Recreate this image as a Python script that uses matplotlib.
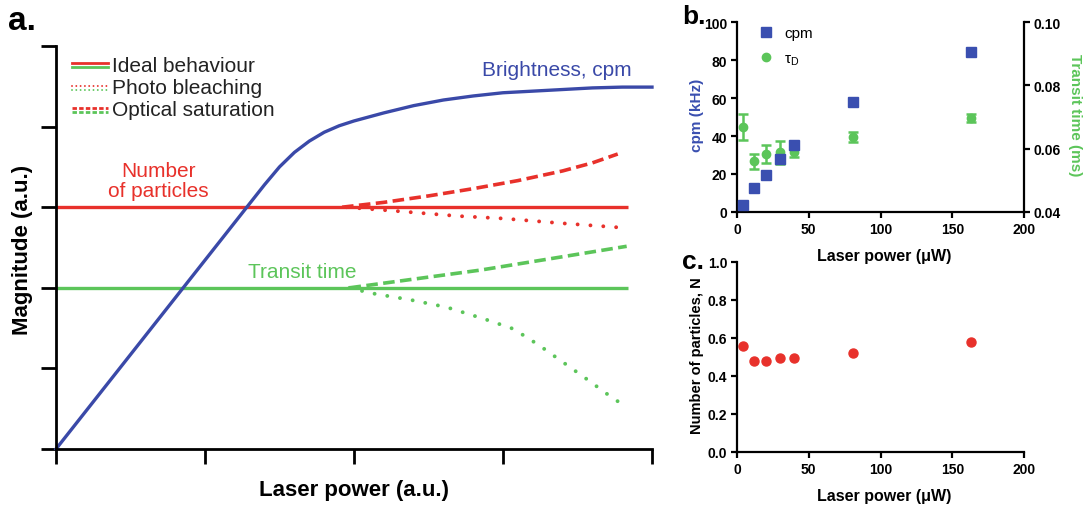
import matplotlib
matplotlib.use("Agg")
import matplotlib.pyplot as plt
from matplotlib.lines import Line2D

plt.rcParams['font.family'] = ['Liberation Sans', 'DejaVu Sans']
plt.rcParams['mathtext.fontset'] = 'custom'
plt.rcParams['mathtext.rm'] = 'Liberation Sans'
plt.rcParams['mathtext.it'] = 'Liberation Sans:italic'

BLUE = '#3a49a8'
RED = '#e8312b'
GREEN = '#5cc55a'
BLUE_B = '#3a4fb0'

# ---------------- Panel a: schematic curves (a.u.) ----------------
bright_x = [0, 1.40, 1.50, 1.60, 1.70, 1.80, 1.90, 2.00, 2.20, 2.40, 2.60, 2.80, 3.00, 3.20, 3.40, 3.60, 3.80, 4.00]
bright_y = [0, 3.28, 3.50, 3.68, 3.82, 3.93, 4.01, 4.07, 4.17, 4.26, 4.33, 4.38, 4.42, 4.44, 4.46, 4.48, 4.49, 4.49]

ideal_x = [0, 3.84]
n_ideal = [3.0, 3.0]
t_ideal = [2.0, 2.0]

n_sat_x = [1.92, 2.2, 2.5, 2.8, 3.1, 3.4, 3.6, 3.77]
n_sat_y = [3.0, 3.06, 3.14, 3.23, 3.33, 3.45, 3.55, 3.66]

n_bleach_x = [1.95, 2.3, 2.7, 3.0, 3.4, 3.77]
n_bleach_y = [3.0, 2.95, 2.89, 2.86, 2.80, 2.75]

t_sat_x = [1.97, 2.85, 3.83]
t_sat_y = [2.0, 2.22, 2.515]

t_bleach_x = [1.97, 2.11, 2.38, 2.62, 2.88, 3.07, 3.24, 3.40, 3.56, 3.73, 3.83]
t_bleach_y = [2.0, 1.935, 1.85, 1.76, 1.61, 1.49, 1.29, 1.08, 0.87, 0.64, 0.52]

# ---------------- Panels b, c: measured data ----------------
power = [4, 12, 20, 30, 40, 81, 163]
cpm = [3.6, 12.4, 19.5, 27.9, 35.3, 57.8, 84.0]
tau_d = [0.0668, 0.0560, 0.0583, 0.0588, 0.0588, 0.0638, 0.0696]
tau_err = [0.0041, 0.0023, 0.0028, 0.0036, 0.0013, 0.0016, 0.0013]
n_part = [0.559, 0.477, 0.481, 0.493, 0.497, 0.523, 0.579]

W, H = 1084, 510
fig = plt.figure(figsize=(W/100, H/100), dpi=100)

def fx(px):
    return px / W

def fy(py):
    return 1 - py / H

# ---- panel a
ax = fig.add_axes([fx(56), fy(450), 596/W, 403/H])
ax.set_xlim(0, 4)
ax.set_ylim(0, 5)
for s in ['top', 'right']:
    ax.spines[s].set_visible(False)
for s in ['left', 'bottom']:
    ax.spines[s].set_linewidth(2.0)
ax.set_xticks([0, 1, 2, 3, 4])
ax.set_yticks([0, 1, 2, 3, 4, 5])
ax.set_xticklabels([])
ax.set_yticklabels([])
ax.tick_params(direction='out', length=11, width=2.0)

lw = 2.4
dash = (0, (3.2, 1.5))
dot = (0, (0.01, 3.3))
ax.plot(ideal_x, n_ideal, color=RED, lw=lw, solid_capstyle='butt')
ax.plot(ideal_x, t_ideal, color=GREEN, lw=lw, solid_capstyle='butt')
ax.plot(n_sat_x, n_sat_y, color=RED, lw=2.6, linestyle=dash)
ax.plot(t_sat_x, t_sat_y, color=GREEN, lw=2.6, linestyle=dash)
ax.plot(n_bleach_x, n_bleach_y, color=RED, lw=2.8, linestyle=dot, dash_capstyle='round')
ax.plot(t_bleach_x, t_bleach_y, color=GREEN, lw=2.8, linestyle=dot, dash_capstyle='round')
ax.plot(bright_x, bright_y, color=BLUE, lw=2.4, clip_on=False)

ax.text(3.36, 4.71, 'Brightness, cpm', color=BLUE, fontsize=15, ha='center', va='center')
ax.text(0.69, 3.33, 'Number\nof particles', color=RED, fontsize=15, ha='center', va='center',
        linespacing=1.05)
ax.text(1.65, 2.2, 'Transit time', color=GREEN, fontsize=15, ha='center', va='center')

# legend (manual, double coloured handles)
leg_rows = [('Ideal behaviour', '-'), ('Photo bleaching', 'dot'), ('Optical saturation', (0, (1.6, 0.8)))]
x0, x1 = (72-56)/596, (108-56)/596
for i, (lab, ls) in enumerate(leg_rows):
    yc = 1 - (66 + 22.5*i - 47)/403
    off = 2.0/403
    kw = dict(transform=ax.transAxes, lw=2.0, linestyle=ls, clip_on=False)
    if ls == 'dot':
        kw['lw'] = 1.4
        kw['linestyle'] = (0, (0.01, 2.2))
        kw['dash_capstyle'] = 'round'
    ax.add_line(Line2D([x0, x1], [yc+off, yc+off], color=RED, **kw))
    ax.add_line(Line2D([x0, x1], [yc-off, yc-off], color=GREEN, **kw))
    ax.text((112-56)/596, yc, lab, transform=ax.transAxes, fontsize=15, color='#222222',
            ha='left', va='center')

fig.text(fx(23), fy(250), 'Magnitude (a.u.)', fontsize=16, fontweight='bold', rotation=90,
         ha='center', va='center')
fig.text(fx(354), fy(491), 'Laser power (a.u.)', fontsize=16, fontweight='bold',
         ha='center', va='center')
fig.text(fx(8), fy(22), 'a.', fontsize=24, fontweight='bold', ha='left', va='center')

# ---- panel b
def style_small(a):
    a.spines['top'].set_visible(False)
    a.spines['right'].set_visible(False)
    for s in ['left', 'bottom']:
        a.spines[s].set_linewidth(1.6)
    a.tick_params(direction='out', length=4, width=1.6, labelsize=10, pad=3)
    for t in a.get_xticklabels() + a.get_yticklabels():
        t.set_fontweight('bold')

axb = fig.add_axes([fx(737), fy(213), 287/W, 190/H])
axb.set_xlim(0, 200)
axb.set_ylim(0, 100)
axb.set_xticks([0, 50, 100, 150, 200])
axb.set_yticks([0, 20, 40, 60, 80, 100])
axb2 = axb.twinx()
axb2.set_ylim(0.04, 0.10)
axb2.set_yticks([0.04, 0.06, 0.08, 0.10])
axb2.set_yticklabels(['0.04', '0.06', '0.08', '0.10'])
axb2.spines['top'].set_visible(False)
axb2.spines['right'].set_linewidth(1.6)
axb2.spines['left'].set_visible(False)
axb2.spines['bottom'].set_visible(False)
axb2.tick_params(direction='out', length=4, width=1.6, labelsize=10, pad=3)
for t in axb2.get_yticklabels():
    t.set_fontweight('bold')
style_small(axb)

axb2.errorbar(power, tau_d, yerr=tau_err, fmt='o', color=GREEN, ms=6, elinewidth=1.8,
              capsize=3.5, capthick=1.8, zorder=3)
axb.plot(power, cpm, 's', color=BLUE_B, ms=6.5, zorder=4)
axb.set_zorder(axb2.get_zorder() + 1)
axb.patch.set_visible(False)

h1 = Line2D([], [], marker='s', color=BLUE_B, ls='none', ms=6.5)
h2 = Line2D([], [], marker='o', color=GREEN, ls='none', ms=6)
axb.legend([h1, h2], ['cpm', r'$\mathrm{\tau_D}$'], loc='upper left', frameon=False, fontsize=11,
           bbox_to_anchor=(0.02, 1.05), handlelength=1.2, handletextpad=0.6, labelspacing=0.75)

fig.text(fx(697), fy(115), 'cpm (kHz)', fontsize=11, fontweight='bold', color=BLUE_B,
         rotation=90, ha='center', va='center')
fig.text(fx(1075), fy(115), 'Transit time (ms)', fontsize=11, fontweight='bold', color=GREEN,
         rotation=270, ha='center', va='center')
fig.text(fx(884), fy(256), 'Laser power (\u03bcW)', fontsize=11.5, fontweight='bold',
         ha='center', va='center')
fig.text(fx(682), fy(17), 'b.', fontsize=19, fontweight='bold', ha='left', va='center')

# ---- panel c
axc = fig.add_axes([fx(737), fy(453), 287/W, 190/H])
axc.set_xlim(0, 200)
axc.set_ylim(0, 1.0)
axc.set_xticks([0, 50, 100, 150, 200])
axc.set_yticks([0.0, 0.2, 0.4, 0.6, 0.8, 1.0])
axc.set_yticklabels(['0.0', '0.2', '0.4', '0.6', '0.8', '1.0'])
style_small(axc)
axc.plot(power, n_part, 'o', color=RED, ms=6.5)
fig.text(fx(697), fy(356), 'Number of particles, N', fontsize=10.5, fontweight='bold',
         rotation=90, ha='center', va='center')
fig.text(fx(884), fy(497), 'Laser power (\u03bcW)', fontsize=11.5, fontweight='bold',
         ha='center', va='center')
fig.text(fx(682), fy(262), 'c.', fontsize=19, fontweight='bold', ha='left', va='center')

fig.savefig('out.png', dpi=100)
